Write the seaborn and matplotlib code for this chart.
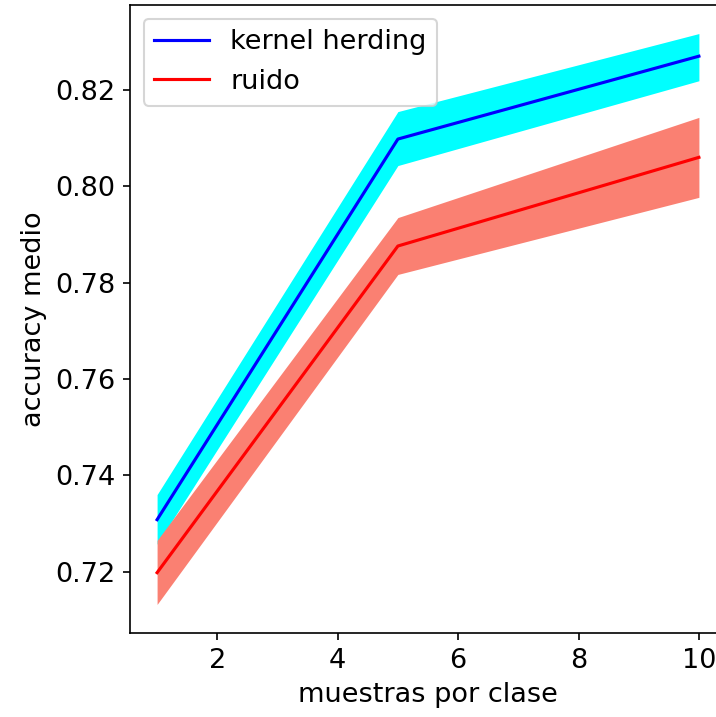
import numpy as np
import pandas as pd
import matplotlib
matplotlib.use("Agg")
import matplotlib.pyplot as plt
import seaborn as sns

# datos
muestras = [1, 5, 10]
kh_media = [0.7308, 0.8098, 0.8270]
kh_inf = [0.7257, 0.8043, 0.8219]
kh_sup = [0.7360, 0.8155, 0.8317]
ruido_media = [0.7198, 0.7876, 0.8060]
ruido_inf = [0.7132, 0.7817, 0.7977]
ruido_sup = [0.7265, 0.7935, 0.8143]

df = pd.DataFrame({
    "muestras": muestras * 2,
    "accuracy": kh_media + ruido_media,
    "metodo": ["kernel herding"] * 3 + ["ruido"] * 3,
})

plt.rcParams["font.size"] = 13

fig = plt.figure(figsize=(716 / 150, 717 / 150), dpi=150)
ax = fig.add_axes([130 / 716, 84 / 717, 596 / 716, 628 / 717])

ax.fill_between(muestras, kh_inf, kh_sup, color="cyan", linewidth=0)
ax.fill_between(muestras, ruido_inf, ruido_sup, color="salmon", linewidth=0)

sns.lineplot(data=df, x="muestras", y="accuracy", hue="metodo",
             palette={"kernel herding": "blue", "ruido": "red"}, ax=ax)

ax.set_xticks([2, 4, 6, 8, 10])
ax.set_xlabel("muestras por clase")
ax.set_ylabel("accuracy medio")
ax.legend(loc="upper left")

fig.savefig("out.png", dpi=150)
plt.close(fig)
